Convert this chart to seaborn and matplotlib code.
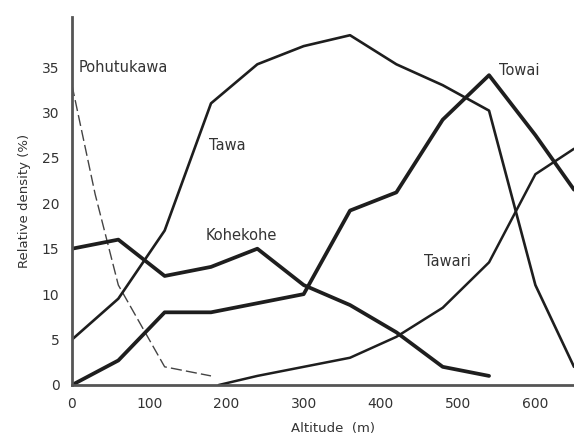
import pandas as pd
import seaborn as sns
import matplotlib
matplotlib.use('Agg')
import matplotlib.pyplot as plt

# altitude (m) / relative density (%)
pohutukawa_x = [0, 30, 60, 120, 180]
pohutukawa_y = [33, 21, 11, 2, 1]

tawa_x = [0, 60, 120, 180, 240, 300, 360, 420, 480, 540, 600, 650]
tawa_y = [5, 9.5, 17, 31, 35.3, 37.3, 38.5, 35.3, 33, 30.2, 11, 2]

kohekohe_x = [0, 60, 120, 180, 240, 300, 360, 420, 480, 540]
kohekohe_y = [15, 16, 12, 13, 15, 11, 8.8, 5.8, 2, 1]

towai_x = [0, 60, 120, 180, 240, 300, 360, 420, 480, 540, 600, 650]
towai_y = [0, 2.7, 8, 8, 9, 10, 19.2, 21.2, 29.2, 34.1, 27.5, 21.5]

tawari_x = [190, 240, 300, 360, 420, 480, 540, 600, 650]
tawari_y = [0, 1, 2, 3, 5.3, 8.5, 13.5, 23.2, 26]

species = ['Pohutukawa', 'Tawa', 'Kohekohe', 'Towai', 'Tawari']
label_pos = [(8, 35), (177, 26.4), (173, 16.4), (553, 34.6), (456, 13.6)]

frames = []
for name, xs, ys in [('Pohutukawa', pohutukawa_x, pohutukawa_y),
                     ('Tawa', tawa_x, tawa_y),
                     ('Kohekohe', kohekohe_x, kohekohe_y),
                     ('Towai', towai_x, towai_y),
                     ('Tawari', tawari_x, tawari_y)]:
    frames.append(pd.DataFrame({'alt': xs, 'dens': ys, 'species': name}))
df = pd.concat(frames, ignore_index=True)

sns.set_style('white')
plt.rcParams['font.family'] = ['DejaVu Sans']

fig = plt.figure(figsize=(5.74, 4.37), dpi=100)
ax = fig.add_axes([0.1254, 0.119, 0.8746, 0.842])

ink = '#1e1e1e'
widths = {'Pohutukawa': 1.0, 'Tawa': 1.9, 'Kohekohe': 2.7, 'Towai': 2.7, 'Tawari': 1.8}
for name in species:
    sub = df[df['species'] == name]
    sns.lineplot(data=sub, x='alt', y='dens', ax=ax, color=ink if name != 'Pohutukawa' else '#444444',
                 linewidth=widths[name], sort=False, estimator=None,
                 linestyle=(0, (8, 3)) if name == 'Pohutukawa' else '-')

for name, (tx, ty) in zip(species, label_pos):
    ax.text(tx, ty, name, fontsize=10.5, color='#333333', va='center', ha='left')

ax.set_xlim(0, 650)
ax.set_ylim(0, 40.5)
ax.set_xticks([0, 100, 200, 300, 400, 500, 600])
ax.set_yticks([0, 5, 10, 15, 20, 25, 30, 35])
ax.tick_params(length=0, labelsize=10, colors='#333333', pad=9)
ax.set_xlabel('Altitude  (m)', fontsize=9.5, color='#333333')
ax.set_ylabel('Relative density (%)', fontsize=9.5, color='#333333', labelpad=8)
ax.xaxis.set_label_coords(0.52, -0.1)

sns.despine(ax=ax)
for s in ['left', 'bottom']:
    ax.spines[s].set_linewidth(2)
    ax.spines[s].set_color('#555555')

fig.savefig('out.png', dpi=100)
